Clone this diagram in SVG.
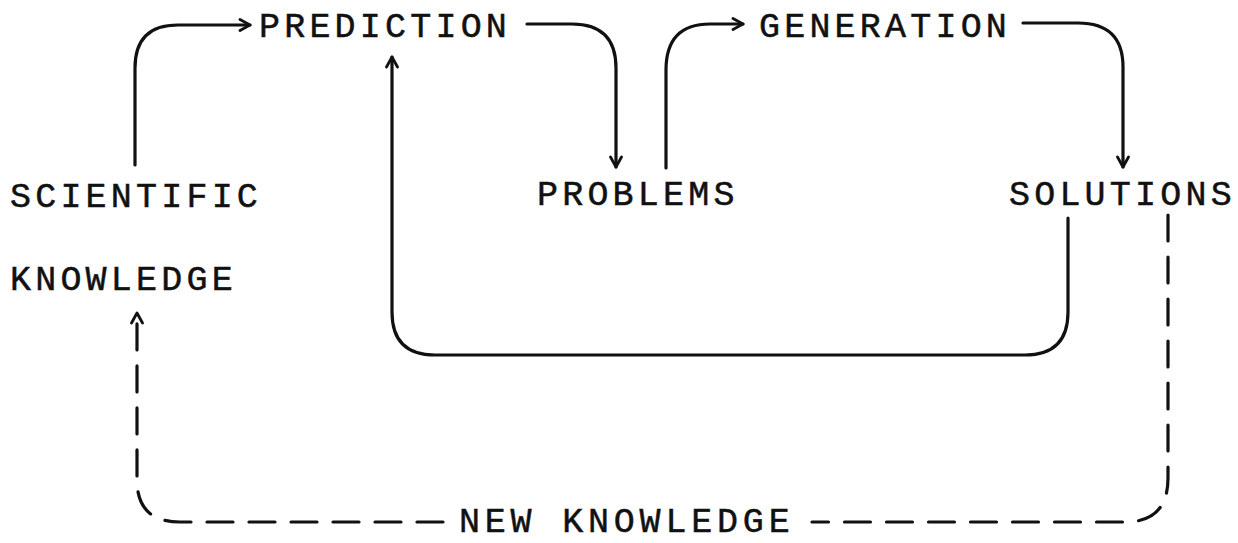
<svg xmlns="http://www.w3.org/2000/svg" width="1238" height="543" viewBox="0 0 1238 543">
<style>
  .lbl { font-family: "Liberation Mono", "Courier New", monospace; font-size: 35px; letter-spacing: 4.2px; fill: #111; stroke: #111; stroke-width: 0.5px; }
  .wide { letter-spacing: 4.8px; }
  .conn { fill: none; stroke: #111; stroke-width: 3.2; stroke-linecap: round; stroke-linejoin: round; }
  .dash { stroke-dasharray: 26 16; }
</style>
<defs>
  <marker id="arr" viewBox="0 0 14 14" refX="12" refY="7" markerWidth="14" markerHeight="14" markerUnits="userSpaceOnUse" orient="auto">
    <path d="M2,1.5 L12,7 L2,12.5" fill="none" stroke="#111" stroke-width="2.8" stroke-dasharray="none" stroke-linecap="round" stroke-linejoin="round"/>
  </marker>
</defs>
<rect width="1238" height="543" fill="#fff"/>
<g id="connectors">
  <path class="conn" d="M135,165 V68 Q135,25 178,25 H250" marker-end="url(#arr)"/>
  <path class="conn" d="M527,24 H572 Q616,24 616,68 V167" marker-end="url(#arr)"/>
  <path class="conn" d="M666,168 V70 Q666,24 710,24 H743" marker-end="url(#arr)"/>
  <path class="conn" d="M1023,23 H1078 Q1123,23 1123,67 V167" marker-end="url(#arr)"/>
  <path class="conn" d="M1068,218 V312 Q1068,355 1025,355 H435 Q392,355 392,312 V57" marker-end="url(#arr)"/>
  <path class="conn dash" d="M1168,215 V478 Q1168,522 1125,522 H812 M443,522 H180 Q137,522 137,480 V313" marker-end="url(#arr)"/>
</g>
<g id="node-scientific-knowledge">
  <text class="lbl" x="10" y="207">SCIENTIFIC</text>
  <text class="lbl" x="10" y="290">KNOWLEDGE</text>
</g>
<g id="node-prediction"><text class="lbl" x="259" y="37">PREDICTION</text></g>
<g id="node-problems"><text class="lbl" x="537" y="205">PROBLEMS</text></g>
<g id="node-generation"><text class="lbl" x="759" y="37">GENERATION</text></g>
<g id="node-solutions"><text class="lbl" x="1009" y="205">SOLUTIONS</text></g>
<g id="node-new-knowledge"><text class="lbl wide" x="459" y="532">NEW KNOWLEDGE</text></g>
</svg>
